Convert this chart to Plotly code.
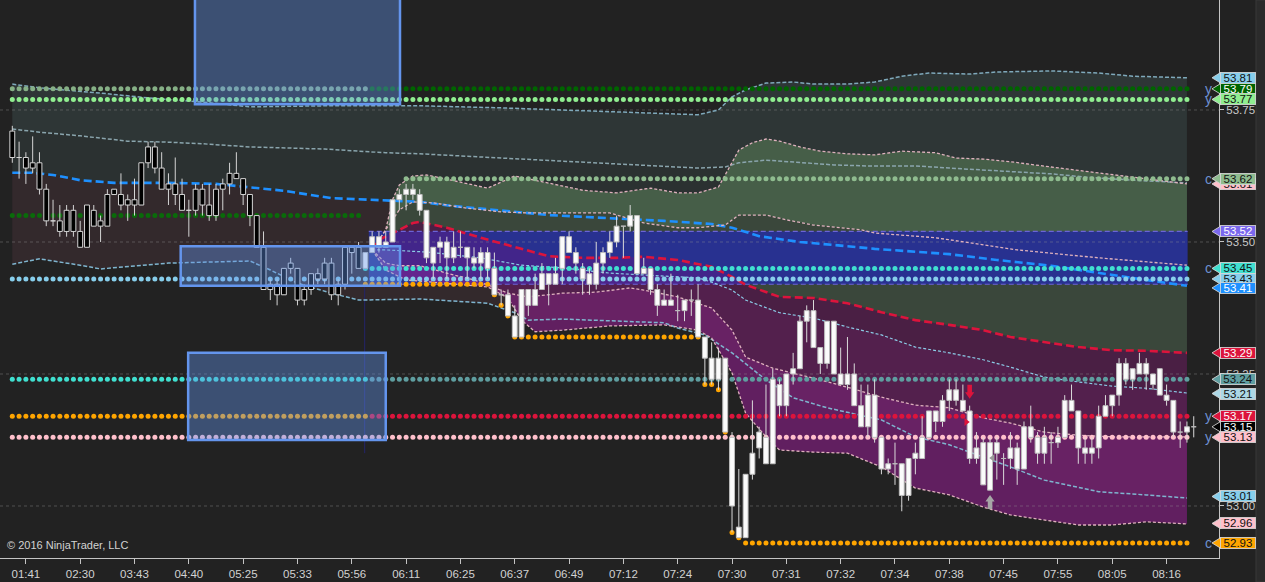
import plotly.graph_objects as go

# ---------------------------------------------------------------- data
time_labels = ["01:41", "02:30", "03:43", "04:40", "05:25", "05:33", "05:56", "06:11",
               "06:25", "06:37", "06:49", "07:12", "07:24", "07:30", "07:31", "07:32",
               "07:34", "07:38", "07:45", "07:55", "08:05", "08:16"]
label_bars = [2, 10, 18, 26, 34, 42, 50, 58, 66, 74, 82, 90, 98, 106, 114, 122, 130,
              138, 146, 154, 162, 170]

opens = [53.71, 53.66, 53.66, 53.64, 53.65, 53.60, 53.54, 53.54, 53.52, 53.56,
         53.52, 53.49, 53.56, 53.53, 53.53, 53.59, 53.59, 53.57, 53.57, 53.57,
         53.65, 53.68, 53.64, 53.60, 53.61, 53.59, 53.56, 53.56, 53.60, 53.57,
         53.55, 53.60, 53.61, 53.62, 53.62, 53.59, 53.55, 53.49, 53.41, 53.42,
         53.40, 53.45, 53.45, 53.39, 53.41, 53.43, 53.43, 53.46, 53.40, 53.42,
         53.49, 53.49, 53.45, 53.48, 53.51, 53.49, 53.50, 53.58, 53.59, 53.60,
         53.59, 53.56, 53.46, 53.49, 53.50, 53.47, 53.49, 53.49, 53.47, 53.46,
         53.48, 53.45, 53.40, 53.40, 53.36, 53.32, 53.41, 53.38, 53.41, 53.44,
         53.42, 53.45, 53.51, 53.48, 53.45, 53.44, 53.42, 53.46, 53.48, 53.50,
         53.53, 53.53, 53.55, 53.44, 53.45, 53.41, 53.38, 53.39, 53.37, 53.37,
         53.39, 53.39, 53.32, 53.28, 53.24, 53.28, 53.13, 52.96, 52.94, 53.06,
         53.11, 53.13, 53.08, 53.23, 53.19, 53.25, 53.26, 53.35, 53.37, 53.30,
         53.27, 53.35, 53.25, 53.23, 53.25, 53.19, 53.15, 53.21, 53.13, 53.07,
         53.08, 53.08, 53.02, 53.09, 53.09, 53.13, 53.16, 53.16, 53.20, 53.22,
         53.20, 53.18, 53.09, 53.12, 53.03, 53.12, 53.09, 53.09, 53.11, 53.07,
         53.15, 53.13, 53.10, 53.12, 53.12, 53.13, 53.20, 53.18, 53.11, 53.10,
         53.11, 53.17, 53.19, 53.21, 53.27, 53.24, 53.25, 53.27, 53.25, 53.26,
         53.21, 53.20, 53.14, 53.14, 53.15]
highs = [53.72, 53.69, 53.67, 53.70, 53.67, 53.61, 53.58, 53.57, 53.57, 53.57,
         53.54, 53.57, 53.57, 53.55, 53.60, 53.60, 53.63, 53.59, 53.62, 53.65,
         53.69, 53.69, 53.67, 53.63, 53.66, 53.62, 53.58, 53.61, 53.61, 53.61,
         53.61, 53.62, 53.65, 53.67, 53.62, 53.59, 53.55, 53.52, 53.43, 53.43,
         53.45, 53.47, 53.45, 53.42, 53.44, 53.45, 53.47, 53.47, 53.43, 53.49,
         53.49, 53.50, 53.48, 53.52, 53.52, 53.52, 53.58, 53.60, 53.61, 53.61,
         53.60, 53.56, 53.49, 53.51, 53.51, 53.52, 53.52, 53.49, 53.49, 53.49,
         53.49, 53.48, 53.41, 53.41, 53.38, 53.41, 53.41, 53.44, 53.46, 53.44,
         53.47, 53.51, 53.52, 53.49, 53.46, 53.45, 53.50, 53.49, 53.52, 53.55,
         53.53, 53.57, 53.55, 53.47, 53.45, 53.42, 53.41, 53.44, 53.40, 53.39,
         53.41, 53.42, 53.32, 53.31, 53.30, 53.28, 53.14, 53.07, 53.06, 53.20,
         53.15, 53.23, 53.26, 53.24, 53.25, 53.29, 53.36, 53.38, 53.39, 53.30,
         53.35, 53.35, 53.30, 53.32, 53.27, 53.23, 53.23, 53.24, 53.13, 53.09,
         53.12, 53.08, 53.09, 53.12, 53.17, 53.18, 53.18, 53.21, 53.24, 53.24,
         53.23, 53.19, 53.14, 53.13, 53.13, 53.13, 53.10, 53.14, 53.12, 53.16,
         53.19, 53.14, 53.15, 53.14, 53.15, 53.21, 53.23, 53.18, 53.13, 53.13,
         53.19, 53.21, 53.21, 53.28, 53.28, 53.26, 53.29, 53.28, 53.25, 53.26,
         53.23, 53.20, 53.16, 53.16, 53.17]
lows = [53.65, 53.62, 53.61, 53.63, 53.59, 53.53, 53.53, 53.51, 53.51, 53.51,
        53.49, 53.49, 53.53, 53.50, 53.53, 53.59, 53.56, 53.54, 53.55, 53.57,
        53.64, 53.63, 53.60, 53.57, 53.57, 53.56, 53.51, 53.55, 53.55, 53.54,
        53.54, 53.56, 53.59, 53.62, 53.57, 53.53, 53.49, 53.41, 53.39, 53.38,
        53.40, 53.44, 53.38, 53.38, 53.40, 53.42, 53.42, 53.39, 53.38, 53.41,
        53.44, 53.45, 53.45, 53.48, 53.48, 53.49, 53.50, 53.56, 53.56, 53.58,
        53.55, 53.46, 53.43, 53.46, 53.43, 53.46, 53.47, 53.43, 53.45, 53.43,
        53.43, 53.40, 53.38, 53.36, 53.32, 53.32, 53.36, 53.38, 53.41, 53.38,
        53.42, 53.42, 53.48, 53.44, 53.40, 53.40, 53.41, 53.44, 53.47, 53.49,
        53.47, 53.52, 53.44, 53.44, 53.40, 53.36, 53.38, 53.38, 53.35, 53.35,
        53.36, 53.32, 53.23, 53.23, 53.22, 53.14, 52.95, 52.94, 52.94, 53.05,
        53.09, 53.08, 53.08, 53.17, 53.17, 53.23, 53.26, 53.31, 53.30, 53.25,
        53.26, 53.25, 53.23, 53.22, 53.19, 53.15, 53.13, 53.12, 53.06, 53.06,
        53.04, 52.99, 53.01, 53.06, 53.09, 53.13, 53.14, 53.15, 53.18, 53.19,
        53.18, 53.08, 53.08, 53.04, 53.03, 53.05, 53.04, 53.07, 53.04, 53.07,
        53.12, 53.08, 53.08, 53.08, 53.11, 53.13, 53.18, 53.08, 53.08, 53.08,
        53.09, 53.17, 53.17, 53.19, 53.23, 53.22, 53.25, 53.22, 53.22, 53.21,
        53.19, 53.13, 53.11, 53.12, 53.13]
closes = [53.66, 53.66, 53.64, 53.65, 53.60, 53.54, 53.54, 53.52, 53.56, 53.52,
          53.49, 53.57, 53.53, 53.54, 53.59, 53.60, 53.57, 53.58, 53.58, 53.65,
          53.68, 53.64, 53.60, 53.61, 53.59, 53.56, 53.56, 53.60, 53.57, 53.55,
          53.60, 53.61, 53.63, 53.63, 53.59, 53.55, 53.49, 53.41, 53.42, 53.40,
          53.45, 53.46, 53.39, 53.41, 53.44, 53.44, 53.46, 53.40, 53.42, 53.49,
          53.48, 53.45, 53.48, 53.51, 53.49, 53.50, 53.58, 53.59, 53.60, 53.59,
          53.56, 53.47, 53.49, 53.50, 53.47, 53.49, 53.49, 53.47, 53.46, 53.48,
          53.45, 53.40, 53.40, 53.36, 53.32, 53.41, 53.38, 53.41, 53.44, 53.42,
          53.44, 53.51, 53.48, 53.46, 53.43, 53.42, 53.46, 53.48, 53.50, 53.53,
          53.53, 53.55, 53.44, 53.45, 53.41, 53.38, 53.39, 53.38, 53.37, 53.39,
          53.39, 53.32, 53.28, 53.24, 53.28, 53.14, 53.00, 52.94, 53.06, 53.10,
          53.14, 53.08, 53.24, 53.19, 53.25, 53.26, 53.35, 53.37, 53.30, 53.27,
          53.35, 53.25, 53.23, 53.25, 53.19, 53.15, 53.21, 53.13, 53.07, 53.08,
          53.08, 53.02, 53.09, 53.10, 53.13, 53.18, 53.18, 53.20, 53.22, 53.20,
          53.18, 53.09, 53.11, 53.04, 53.12, 53.10, 53.09, 53.11, 53.07, 53.15,
          53.13, 53.10, 53.13, 53.12, 53.13, 53.20, 53.18, 53.11, 53.10, 53.11,
          53.17, 53.19, 53.21, 53.27, 53.24, 53.26, 53.27, 53.25, 53.23, 53.21,
          53.20, 53.14, 53.14, 53.15, 53.15]
bars = list(range(len(opens)))
session_split = 52          # first bar of the day session (white candles)

# envelope lines (bar index, price)
outer_up_x = [0, 4, 13, 20, 28, 35, 47, 60, 72, 86, 101, 104, 106, 108, 111, 115, 118,
              123, 127, 131, 135, 141, 145, 153, 160, 165, 173]
outer_up_y = [53.799, 53.792, 53.782, 53.773, 53.765, 53.756, 53.758, 53.758, 53.754,
              53.748, 53.741, 53.750, 53.775, 53.788, 53.801, 53.803, 53.799, 53.799,
              53.803, 53.814, 53.820, 53.818, 53.822, 53.824, 53.820, 53.814, 53.811]
inner_up_x = [0, 4, 10, 17, 23, 28, 35, 46, 55, 60, 72, 86, 101, 105, 107, 111, 116, 121,
              126, 133, 138, 143, 148, 153, 158, 165, 173]
inner_up_y = [53.714, 53.708, 53.701, 53.691, 53.689, 53.686, 53.680, 53.676, 53.669,
              53.667, 53.659, 53.650, 53.640, 53.642, 53.650, 53.655, 53.650, 53.646,
              53.644, 53.644, 53.640, 53.636, 53.633, 53.629, 53.623, 53.617, 53.612]
trend_x = [0, 3, 6, 10, 15, 23, 30, 35, 40, 47, 52, 60, 65, 71, 79, 88, 96, 103, 106,
           110, 116, 123, 127, 138, 145, 153, 160, 167, 173]
trend_y = [53.631, 53.631, 53.627, 53.617, 53.612, 53.612, 53.610, 53.604, 53.597,
           53.583, 53.580, 53.576, 53.568, 53.561, 53.551, 53.545, 53.540, 53.534,
           53.527, 53.511, 53.500, 53.492, 53.487, 53.477, 53.466, 53.455, 53.441,
           53.428, 53.417]
outer_dn_x = [0, 4, 10, 13, 23, 35, 38, 42, 47, 51, 60, 70, 74, 76, 81, 91, 96, 98, 102,
              106, 111, 115, 120, 128, 133, 138, 143, 147, 152, 160, 167, 173]
outer_dn_y = [53.458, 53.468, 53.456, 53.449, 53.460, 53.464, 53.447, 53.422, 53.403,
              53.390, 53.392, 53.384, 53.366, 53.352, 53.354, 53.350, 53.347, 53.337,
              53.324, 53.290, 53.239, 53.205, 53.186, 53.163, 53.131, 53.116, 53.093,
              53.074, 53.049, 53.027, 53.021, 53.015]

# session VWAP and deviation bands
sd_up2_x = [53, 55, 56, 57, 59, 61, 64, 70, 74, 79, 84, 89, 94, 98, 101, 104, 107, 109,
            111, 113, 116, 119, 123, 127, 131, 136, 139, 143, 147, 153, 158, 163, 168, 173]
sd_up2_y = [53.485, 53.523, 53.580, 53.608, 53.625, 53.627, 53.619, 53.602, 53.625,
            53.612, 53.598, 53.593, 53.602, 53.593, 53.593, 53.604, 53.674, 53.688,
            53.695, 53.691, 53.680, 53.672, 53.667, 53.665, 53.672, 53.669, 53.659,
            53.657, 53.652, 53.642, 53.634, 53.625, 53.617, 53.610]
sd_up1_x = [53, 57, 59, 62, 67, 72, 76, 88, 93, 98, 101, 105, 107, 111, 114, 118, 125,
            127, 136, 143, 148, 160, 173]
sd_up1_y = [53.485, 53.561, 53.576, 53.574, 53.564, 53.557, 53.555, 53.555, 53.536,
            53.527, 53.527, 53.532, 53.551, 53.551, 53.542, 53.532, 53.523, 53.517,
            53.508, 53.494, 53.485, 53.470, 53.456]
vwap_x = [53, 54, 57, 59, 60, 64, 69, 74, 79, 84, 89, 93, 98, 103, 106, 108, 113, 118,
          123, 128, 133, 138, 143, 147, 152, 157, 162, 167, 173]
vwap_y = [53.485, 53.504, 53.523, 53.536, 53.538, 53.527, 53.508, 53.491, 53.473,
          53.470, 53.470, 53.472, 53.466, 53.453, 53.434, 53.419, 53.396, 53.394,
          53.384, 53.367, 53.352, 53.343, 53.333, 53.320, 53.311, 53.301, 53.295,
          53.294, 53.290]
sd_dn1_x = [53, 55, 61, 69, 75, 81, 88, 93, 101, 103, 106, 108, 113, 118, 123, 128, 133,
            138, 143, 147, 152, 157, 162, 167, 173]
sd_dn1_y = [53.485, 53.485, 53.481, 53.470, 53.456, 53.451, 53.441, 53.438, 53.432,
            53.424, 53.409, 53.390, 53.366, 53.356, 53.339, 53.324, 53.301, 53.290,
            53.277, 53.263, 53.244, 53.235, 53.227, 53.223, 53.214]
sd_dn2_x = [53, 55, 57, 60, 64, 68, 70, 73, 76, 81, 86, 91, 93, 98, 103, 106, 108, 112,
            118, 123, 128, 133, 138, 143, 147, 152, 157, 162, 173]
sd_dn2_y = [53.485, 53.460, 53.455, 53.455, 53.441, 53.428, 53.419, 53.403, 53.396,
            53.403, 53.405, 53.413, 53.409, 53.396, 53.375, 53.333, 53.282, 53.261,
            53.242, 53.225, 53.206, 53.191, 53.186, 53.167, 53.157, 53.140, 53.134,
            53.131, 53.131]
sd_dn3_x = [53, 55, 58, 64, 70, 73, 75, 77, 81, 88, 96, 101, 103, 106, 108, 111, 113,
            118, 123, 128, 133, 138, 143, 147, 152, 157, 162, 167, 173]
sd_dn3_y = [53.485, 53.447, 53.428, 53.422, 53.415, 53.394, 53.352, 53.330, 53.333,
            53.341, 53.343, 53.333, 53.318, 53.252, 53.176, 53.131, 53.106, 53.102,
            53.100, 53.074, 53.034, 53.021, 52.998, 52.983, 52.973, 52.964, 52.964,
            52.970, 52.966]

# value-area band
va_start, va_end = 52.5, 173.1
va_low, va_high = 53.42, 53.52

# dotted price levels
level_prices = [53.79, 53.79, 53.77, 53.62, 53.55, 53.45, 53.43, 53.24, 53.24, 53.17, 53.17, 53.13]
level_first = [0, 53, 0, 58, 0, 52, 0, 0, 53, 0, 53, 0]
level_last = [52, 173, 173, 173, 51, 173, 173, 52, 173, 52, 173, 173]

# running session low (orange dots)
low_first = [52, 71, 72, 73, 74, 102, 103, 104, 105, 106, 107, 108]
low_last = [70, 71, 72, 73, 101, 102, 103, 104, 105, 106, 107, 173]
low_vals = [53.42, 53.40, 53.38, 53.36, 53.32, 53.23, 53.23, 53.22, 53.14, 52.95, 52.94, 52.93]

# drawn zones (rectangles)
zone_x0 = [26.9, 24.8, 25.9]
zone_x1 = [57.1, 57.1, 55.0]
zone_lo = [53.761, 53.417, 53.125]
zone_hi = [54.10, 53.492, 53.290]

# signals
sig_down_bar, sig_down_price = 141, 53.203
sig_up_bar, sig_up_price = 144, 53.021
mark_r_bar, mark_r_price = 140.5, 53.159
mark_l_bar, mark_l_price = 144.4, 53.091
session_line_bar = 51.9
session_line_lo, session_line_hi = 53.10, 53.43

grid_prices = [53.00, 53.25, 53.50, 53.75]

# right-axis price markers
flag_prices = [53.811, 53.79, 53.77, 53.61, 53.62, 53.52, 53.45, 53.43, 53.413, 53.29,
               53.24, 53.213, 53.17, 53.15, 53.13, 53.018, 52.967, 52.93]
flag_texts = ["53.81", "53.79", "53.77", "53.61", "53.62", "53.52", "53.45", "53.43",
              "53.41", "53.29", "53.24", "53.21", "53.17", "53.15", "53.13", "53.01",
              "52.96", "52.93"]
tag_prices = [53.79, 53.77, 53.62, 53.45, 53.17, 53.13, 52.93]
tag_texts = ["y", "y", "c", "c", "y", "y", "c"]

# ---------------------------------------------------------------- style
BG = "#222222"
FONT = "Liberation Sans Narrow, Arial Narrow, Liberation Sans, Arial, sans-serif"
level_colors = ["#86b086", "#006400", "#90ee90", "#8fbc8f", "#0a6a0a", "#40e0d0",
                "#87ceeb", "#40e0d0", "#5f9ea0", "#ffa500", "#dc143c", "#ffc0cb"]
flag_bg = ["#87ceeb", "#006400", "#90ee90", "#ffc0cb", "#8fbc8f", "#7b68ee", "#40e0d0",
           "#87ceeb", "#1e90ff", "#dc143c", "#5f9ea0", "#add8e6", "#dc143c", "#000000",
           "#ffc0cb", "#87ceeb", "#ffc0cb", "#ffa500"]
flag_fg = ["#101010", "#ffffff", "#101010", "#101010", "#101010", "#ffffff", "#101010",
           "#101010", "#ffffff", "#ffffff", "#101010", "#101010", "#ffffff", "#ffffff",
           "#101010", "#101010", "#101010", "#101010"]
BODY_HALF = 0.36

X_RANGE = [-1.811, 177.72]
Y_RANGE = [52.9015, 53.9583]
PLOT_W, PLOT_H = 1219, 558
PX_X = (X_RANGE[1] - X_RANGE[0]) / PLOT_W      # bars per pixel
PX_Y = (Y_RANGE[1] - Y_RANGE[0]) / PLOT_H      # price per pixel

fig = go.Figure()


def band(ux, uy, lx, ly, color):
    fig.add_trace(go.Scatter(x=list(ux) + list(lx)[::-1], y=list(uy) + list(ly)[::-1],
                             fill="toself", fillcolor=color, mode="lines",
                             line=dict(width=0), hoverinfo="skip"))


def line(x, y, color, width, dash):
    fig.add_trace(go.Scatter(x=x, y=y, mode="lines", hoverinfo="skip",
                             line=dict(color=color, width=width, dash=dash)))


# fills
band(outer_up_x, outer_up_y, inner_up_x, inner_up_y, "#2e3636")
band(inner_up_x, inner_up_y, trend_x, trend_y, "#2b3131")
band(trend_x, trend_y, outer_dn_x, outer_dn_y, "#33292c")
band(sd_up2_x, sd_up2_y, sd_up1_x, sd_up1_y, "#465e48")
band(sd_up1_x, sd_up1_y, vwap_x, vwap_y, "#3a473b")
band([va_start, va_end], [va_high, va_high], [va_start, va_end], [va_low, va_low], "#283190")
band(vwap_x, vwap_y, sd_dn3_x, sd_dn3_y, "rgba(130,10,125,0.30)")
band(sd_dn1_x, sd_dn1_y, sd_dn3_x, sd_dn3_y, "rgba(150,40,150,0.12)")
band(sd_dn2_x, sd_dn2_y, sd_dn3_x, sd_dn3_y, "rgba(150,40,150,0.33)")

# grid (drawn over the fills, as in the original)
for g in grid_prices:
    line(X_RANGE, [g, g], "rgba(150,150,150,0.40)", 1, "3px,3px")
line([va_start, va_end], [va_high, va_high], "#6b63d6", 1.2, "5px,3px")
line([va_start, va_end], [va_low, va_low], "#6b63d6", 1.2, "5px,3px")
line([session_line_bar, session_line_bar], [session_line_lo, session_line_hi], "#24246a", 1, "solid")

# indicator lines
line(outer_up_x, outer_up_y, "#7fa9bb", 1.5, "4px,2px")
line(inner_up_x, inner_up_y, "#8aa5ad", 1.5, "4px,2px")
line(outer_dn_x, outer_dn_y, "#7fb5cf", 1.5, "4px,2px")
line(trend_x, trend_y, "#1e90ff", 2.6, "8px,4px")
for xs, ys in [(sd_up2_x, sd_up2_y), (sd_up1_x, sd_up1_y), (sd_dn2_x, sd_dn2_y), (sd_dn3_x, sd_dn3_y)]:
    line(xs, ys, "#deb1bd", 1.3, "3px,2px")
line(sd_dn1_x, sd_dn1_y, "#8ccbe6", 1.2, "3px,2px")
line(vwap_x, vwap_y, "#dc143c", 2.6, "8px,4px")

# dotted levels
for p, a, b, c in zip(level_prices, level_first, level_last, level_colors):
    xs = list(range(a, b + 1))
    fig.add_trace(go.Scatter(x=xs, y=[p] * len(xs), mode="markers", hoverinfo="skip",
                             marker=dict(size=5, color=c, line=dict(width=0))))
lx, ly = [], []
for a, b, v in zip(low_first, low_last, low_vals):
    for k in range(a, b + 1):
        lx.append(k)
        ly.append(v)
fig.add_trace(go.Scatter(x=lx, y=ly, mode="markers", hoverinfo="skip",
                         marker=dict(size=5, color="#ffa500", line=dict(width=0))))


# candles drawn as scatter paths (so they sit above the indicator fills)
def candles(idx, body_fill, body_line, wick_color):
    wx, wy, bx, by = [], [], [], []
    for i in idx:
        wx += [i, i, None]
        wy += [lows[i], highs[i], None]
        o, c = opens[i], closes[i]
        bx += [i - BODY_HALF, i + BODY_HALF, i + BODY_HALF, i - BODY_HALF, i - BODY_HALF, None]
        by += [o, o, c, c, o, None]
    fig.add_trace(go.Scatter(x=wx, y=wy, mode="lines", hoverinfo="skip",
                             line=dict(color=wick_color, width=1)))
    fig.add_trace(go.Scatter(x=bx, y=by, mode="lines", fill="toself", fillcolor=body_fill,
                             hoverinfo="skip", line=dict(color=body_line, width=1)))


candles(bars[:session_split], "#000000", "#d4d4d4", "#d4d4d4")
candles(bars[session_split:], "#fbfbfb", "#bdbdbd", "#dadada")

# small signal markers
fig.add_trace(go.Scatter(x=[mark_r_bar], y=[mark_r_price], mode="markers", hoverinfo="skip",
                         marker=dict(symbol="triangle-right", size=7, color="#dc143c")))
fig.add_trace(go.Scatter(x=[mark_l_bar], y=[mark_l_price], mode="markers", hoverinfo="skip",
                         marker=dict(symbol="triangle-left", size=7, color="#9a9a9a")))

shapes = []


def arrow(bar, tip, direction, color):
    """Block arrow whose tip sits at (bar, tip); direction -1 points down, +1 up."""
    hw, sw, hl, tl = 4.6 * PX_X, 2.3 * PX_X, 6.5 * PX_Y, 14 * PX_Y
    d = -direction
    pts = [(bar, tip), (bar - hw, tip + d * hl), (bar - sw, tip + d * hl),
           (bar - sw, tip + d * tl), (bar + sw, tip + d * tl), (bar + sw, tip + d * hl),
           (bar + hw, tip + d * hl)]
    path = "M " + " L ".join(f"{x},{y}" for x, y in pts) + " Z"
    shapes.append(dict(type="path", xref="x", yref="y", path=path, fillcolor=color,
                       line=dict(width=0), layer="above"))


arrow(sig_down_bar, sig_down_price, -1, "#dc143c")
arrow(sig_up_bar, sig_up_price, +1, "#a6a6a6")

for x0, x1, lo, hi in zip(zone_x0, zone_x1, zone_lo, zone_hi):
    shapes.append(dict(type="rect", xref="x", yref="y", x0=x0, x1=x1, y0=lo, y1=hi,
                       fillcolor="rgba(100,149,237,0.40)",
                       line=dict(color="#6495ed", width=2.5), layer="above"))

# scrollbar strip on the far right
shapes.append(dict(type="rect", xref="paper", yref="paper", x0=1256 / PLOT_W, x1=1266 / PLOT_W,
                   y0=-24 / PLOT_H, y1=1, fillcolor="#2b2b2b", line=dict(color="#383838", width=1),
                   layer="above"))

annotations = []
# "y"/"c" tags just left of the flags
for p, t in zip(tag_prices, tag_texts):
    annotations.append(dict(x=1208 / PLOT_W, y=p, xref="paper", yref="y", text=t,
                            showarrow=False, xanchor="center", yanchor="middle",
                            font=dict(family="Liberation Sans, Arial", size=14, color="#6d8fcf")))

# price flags: pointed tip as a shape, box + text as an annotation (later flags cover earlier)
half = 5.5 * PX_Y
xt, xl = 1212 / PLOT_W, 1221 / PLOT_W
for p, t, bgc, fgc in zip(flag_prices, flag_texts, flag_bg, flag_fg):
    path = f"M {xt},{p} L {xl},{p + half} L {xl},{p - half} Z"
    shapes.append(dict(type="path", xref="paper", yref="y", path=path, fillcolor=bgc,
                       line=dict(color="rgba(215,215,215,0.85)", width=1), layer="above"))
    annotations.append(dict(x=1238.5 / PLOT_W, y=p, xref="paper", yref="y", text=t,
                            showarrow=False, xanchor="center", yanchor="middle",
                            width=34, height=10, borderpad=0, borderwidth=1,
                            bordercolor="rgba(215,215,215,0.85)", bgcolor=bgc, align="center",
                            font=dict(family=FONT, size=11.5, color=fgc)))

annotations.append(dict(x=5 / PLOT_W, y=13 / PLOT_H, xref="paper", yref="paper",
                        text="© 2016 NinjaTrader, LLC", showarrow=False, xanchor="left",
                        yanchor="middle", font=dict(family=FONT, size=11, color="#d2d2d2")))

fig.update_layout(
    width=1265, height=582, margin=dict(l=0, r=46, t=0, b=24),
    paper_bgcolor=BG, plot_bgcolor=BG, showlegend=False, hovermode=False,
    font=dict(family=FONT, size=11, color="#d0d0d0"),
    xaxis=dict(range=X_RANGE, showgrid=False, zeroline=False, showline=True,
               linecolor="#c4c4c4", linewidth=1, ticks="outside", ticklen=5,
               tickcolor="#c4c4c4", tickvals=label_bars, ticktext=time_labels,
               tickfont=dict(family=FONT, size=11.5, color="#d2d2d2"), fixedrange=True),
    yaxis=dict(range=Y_RANGE, side="right", showgrid=False, zeroline=False, showline=True,
               linecolor="#c4c4c4", linewidth=1, ticks="outside", ticklen=4,
               tickcolor="#c4c4c4", tickvals=grid_prices,
               ticktext=[f"{v:.2f}" for v in grid_prices],
               tickfont=dict(family=FONT, size=11.5, color="#c8c8c8"), fixedrange=True),
    shapes=shapes, annotations=annotations,
)

fig.write_html("out.html", config={"displayModeBar": False, "staticPlot": True},
               post_script="document.body.style.margin='0px';"
                           "document.body.style.overflow='hidden';")
